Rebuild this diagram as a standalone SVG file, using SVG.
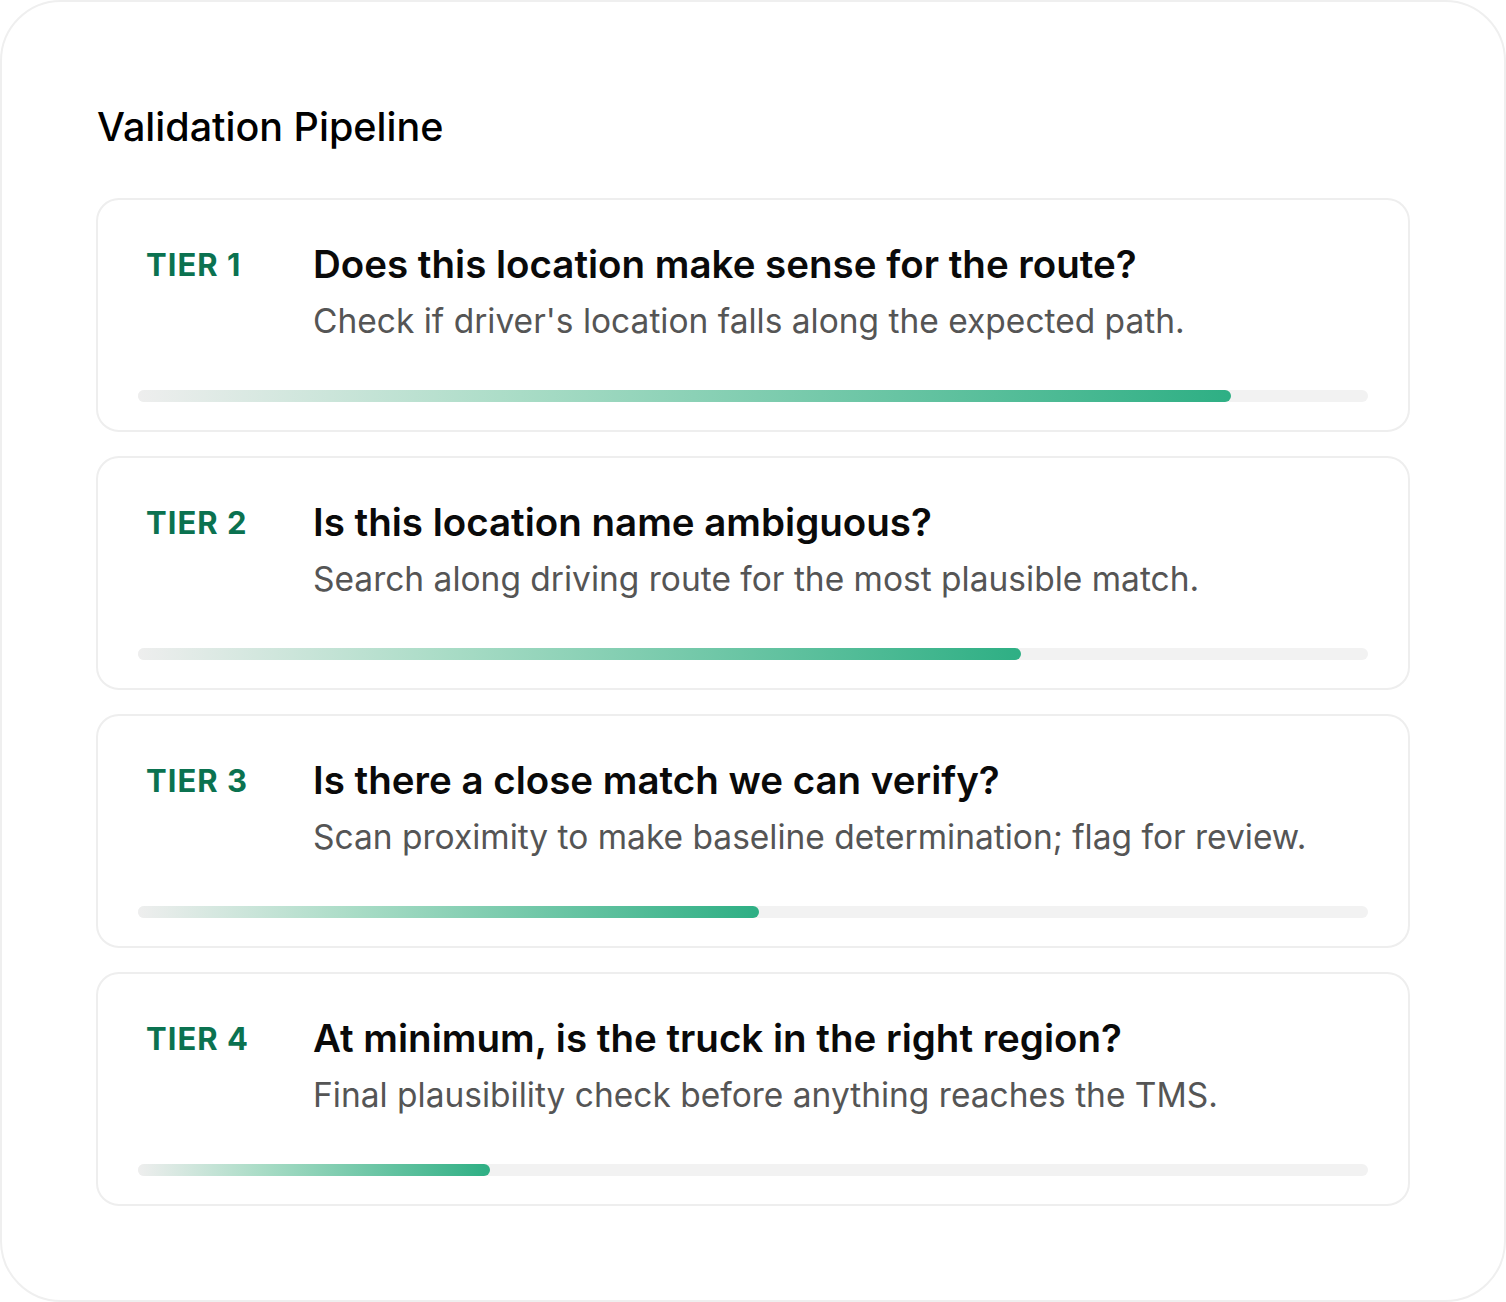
<svg xmlns="http://www.w3.org/2000/svg" width="1506" height="1302" viewBox="0 0 1506 1302">
<defs>
<style>
.frame{fill:#ffffff;stroke:#efefef;stroke-width:2}
.card{fill:#ffffff;stroke:#eeeeee;stroke-width:2}
.track{fill:#f2f2f2}
.title{font-family:Inter,"Liberation Sans",sans-serif;font-size:39.5px;font-weight:500;fill:#000}
.tier{font-family:Inter,"Liberation Sans",sans-serif;font-size:31px;font-weight:700;fill:#0b7250;letter-spacing:1px}
.head{font-family:Inter,"Liberation Sans",sans-serif;font-size:38.5px;font-weight:600;fill:#0a0a0a}
.sub{font-family:Inter,"Liberation Sans",sans-serif;font-size:33.5px;font-weight:400;fill:#555555}
</style>
<linearGradient id="g1" gradientUnits="userSpaceOnUse" x1="138" y1="0" x2="1231" y2="0"><stop offset="0" stop-color="#eeeeee"/><stop offset="0.35" stop-color="#a9dcc6"/><stop offset="1" stop-color="#2eaf84"/></linearGradient>
<linearGradient id="g2" gradientUnits="userSpaceOnUse" x1="138" y1="0" x2="1021" y2="0"><stop offset="0" stop-color="#eeeeee"/><stop offset="0.35" stop-color="#a9dcc6"/><stop offset="1" stop-color="#2eaf84"/></linearGradient>
<linearGradient id="g3" gradientUnits="userSpaceOnUse" x1="138" y1="0" x2="759" y2="0"><stop offset="0" stop-color="#eeeeee"/><stop offset="0.35" stop-color="#a9dcc6"/><stop offset="1" stop-color="#2eaf84"/></linearGradient>
<linearGradient id="g4" gradientUnits="userSpaceOnUse" x1="138" y1="0" x2="490" y2="0"><stop offset="0" stop-color="#eeeeee"/><stop offset="0.35" stop-color="#a9dcc6"/><stop offset="1" stop-color="#2eaf84"/></linearGradient>
</defs>
<rect class="frame" x="1" y="1" width="1504" height="1300" rx="60"/>
<text class="title" x="97" y="141">Validation Pipeline</text>
<g id="tier1">
<rect class="card" x="97" y="199" width="1312" height="232" rx="22"/>
<text class="tier" x="146" y="276">TIER 1</text>
<text class="head" x="313" y="278">Does this location make sense for the route?</text>
<text class="sub" x="313" y="333">Check if driver's location falls along the expected path.</text>
<rect class="track" x="138" y="390" width="1230" height="12" rx="6"/>
<rect x="138" y="390" width="1093" height="12" rx="6" fill="url(#g1)"/>
</g>
<g id="tier2">
<rect class="card" x="97" y="457" width="1312" height="232" rx="22"/>
<text class="tier" x="146" y="534">TIER 2</text>
<text class="head" x="313" y="536">Is this location name ambiguous?</text>
<text class="sub" x="313" y="591">Search along driving route for the most plausible match.</text>
<rect class="track" x="138" y="648" width="1230" height="12" rx="6"/>
<rect x="138" y="648" width="883" height="12" rx="6" fill="url(#g2)"/>
</g>
<g id="tier3">
<rect class="card" x="97" y="715" width="1312" height="232" rx="22"/>
<text class="tier" x="146" y="792">TIER 3</text>
<text class="head" x="313" y="794">Is there a close match we can verify?</text>
<text class="sub" x="313" y="849">Scan proximity to make baseline determination; flag for review.</text>
<rect class="track" x="138" y="906" width="1230" height="12" rx="6"/>
<rect x="138" y="906" width="621" height="12" rx="6" fill="url(#g3)"/>
</g>
<g id="tier4">
<rect class="card" x="97" y="973" width="1312" height="232" rx="22"/>
<text class="tier" x="146" y="1050">TIER 4</text>
<text class="head" x="313" y="1052">At minimum, is the truck in the right region?</text>
<text class="sub" x="313" y="1107">Final plausibility check before anything reaches the TMS.</text>
<rect class="track" x="138" y="1164" width="1230" height="12" rx="6"/>
<rect x="138" y="1164" width="352" height="12" rx="6" fill="url(#g4)"/>
</g>
<g id="connectors"/>
</svg>
